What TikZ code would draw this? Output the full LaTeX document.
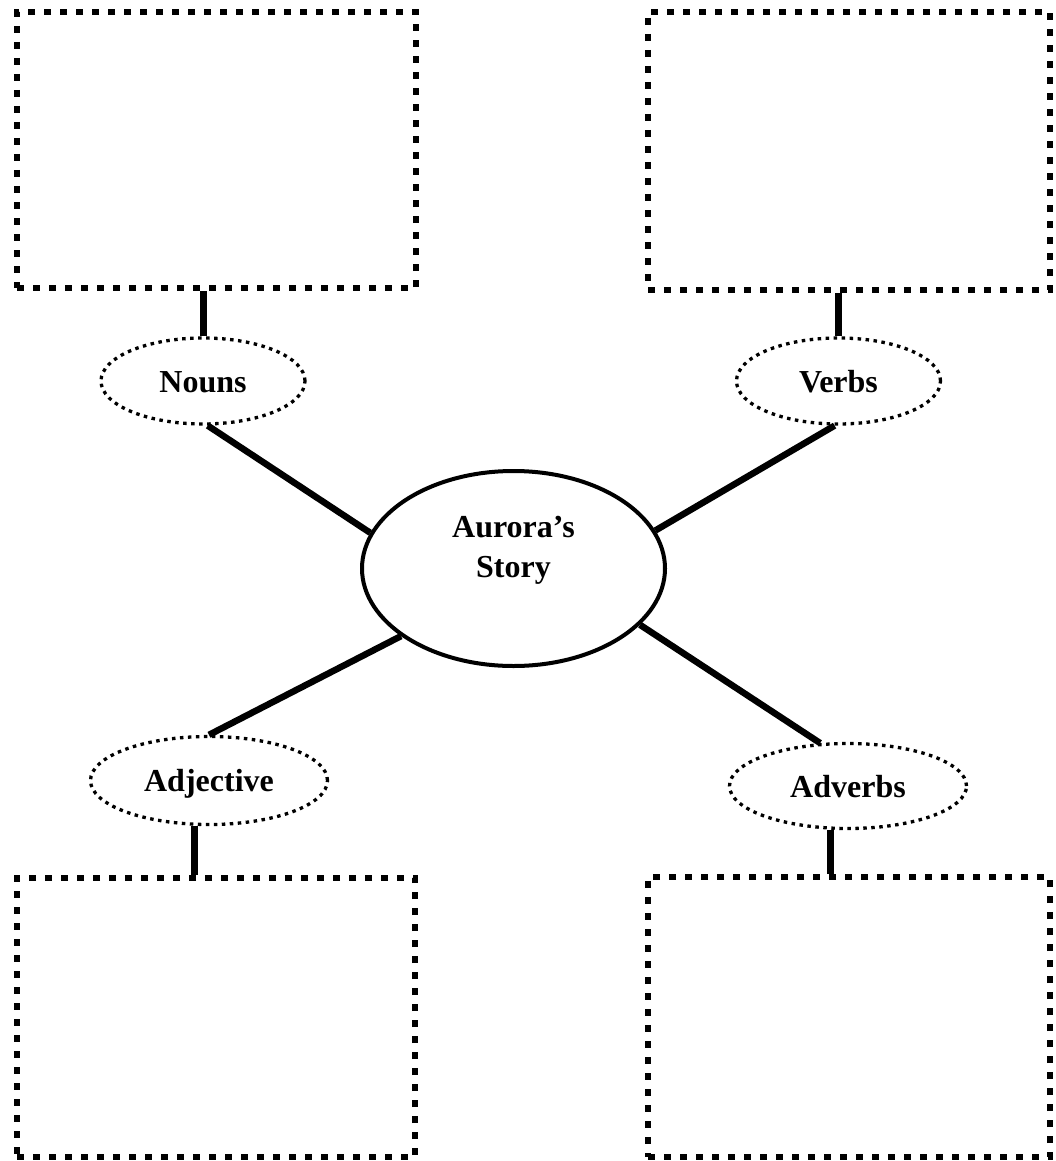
\documentclass[tikz,border=0pt]{standalone}
\usepackage{fontspec}
\setmainfont{Liberation Serif}
\usetikzlibrary{shapes.geometric}
\tikzset{
  wordbox/.style={draw,line width=6.5pt,dash pattern=on 7pt off 9pt,inner sep=0pt},
  wordoval/.style={ellipse,draw,line width=3.3pt,dash pattern=on 3.5pt off 4.5pt,inner sep=0pt,
    font=\fontsize{32}{40}\selectfont\bfseries,text height=22pt,text depth=0pt},
  hub/.style={ellipse,draw,line width=4pt,minimum width=303pt,minimum height=195pt},
  hubtext/.style={align=center,font=\fontsize{32}{40}\selectfont\bfseries},
  stem/.style={line width=7pt},
  spoke/.style={line width=6.5pt}
}
\begin{document}
\begin{tikzpicture}[x=1pt,y=-1pt]
  \useasboundingbox (0,0) rectangle (1055,1161);
  % word boxes
  \node[wordbox,minimum width=399pt,minimum height=276pt] (nounbox) at (216.5,150) {};
  \node[wordbox,minimum width=402pt,minimum height=278pt] (verbbox) at (849,151) {};
  \node[wordbox,minimum width=398pt,minimum height=279pt] (adjbox) at (216,1017.5) {};
  \node[wordbox,minimum width=402pt,minimum height=280pt] (advbox) at (849,1017) {};
  % ovals
  \node[wordoval,minimum width=204pt,minimum height=86pt] (nouns) at (203,381) {Nouns};
  \node[wordoval,minimum width=204pt,minimum height=86pt] (verbs) at (838.5,381) {Verbs};
  \node[wordoval,minimum width=237pt,minimum height=88pt] (adjective) at (209,780.5) {Adjective};
  \node[wordoval,minimum width=237pt,minimum height=85pt] (adverbs) at (848,786) {Adverbs};
  \node[hub] (story) at (513.5,568.5) {};
  \node[hubtext] (title) at (513.5,550.5) {Aurora’s\\Story};
  % connectors
  \draw[stem] (nouns.north) -- (nouns.north |- nounbox.south);
  \draw[stem] (verbs.north) -- (verbs.north |- verbbox.south);
  \draw[stem] (adjective.-108) -- (adjective.-108 |- adjbox.north);
  \draw[stem] (adverbs.-112) -- (adverbs.-112 |- advbox.north);
  \draw[spoke] (nouns.-84) -- (story.166);
  \draw[spoke] (verbs.-95) -- (story.15);
  \draw[spoke] (adjective.north) -- (story.211);
  \draw[spoke] (adverbs.123) -- (story.-24);
\end{tikzpicture}
\end{document}
